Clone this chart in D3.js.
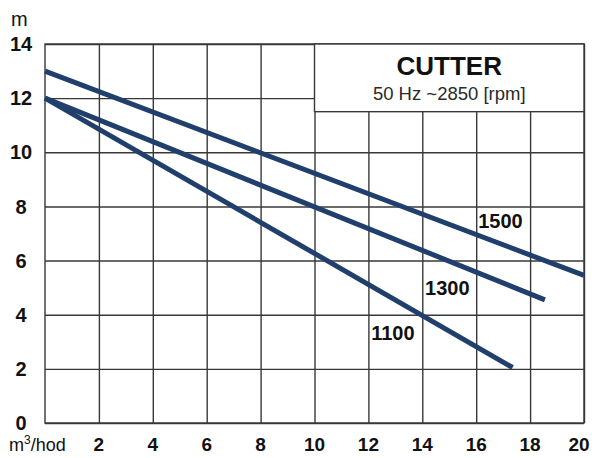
<!DOCTYPE html>
<html>
<head>
<meta charset="utf-8">
<script src="https://cdn.jsdelivr.net/npm/d3@7"></script>
<style>
  body { margin: 0; background: #fff; overflow: hidden; }
  svg { display: block; }
  text { font-family: "Liberation Sans", Arial, sans-serif; fill: #111; }
</style>
</head>
<body>
<div id="chart"></div>
<script>
// data
var xTicks = [2, 4, 6, 8, 10, 12, 14, 16, 18, 20];
var yTicks = [0, 2, 4, 6, 8, 10, 12, 14];
var seriesNames = ["1500", "1300", "1100"];
var flow1500 = [0, 20];
var head1500 = [13, 5.45];
var flow1300 = [0, 18.55];
var head1300 = [12, 4.55];
var flow1100 = [0, 17.35];
var head1100 = [12, 2.05];
// where each curve label sits (data units, baseline)
var labelFlow = [16.9, 14.93, 12.91];
var labelHead = [7.2, 4.73, 3.07];

// SVG area
var svgWidth = 594;
var svgHeight = 458;
var margin = { top: 44, right: 10, bottom: 35, left: 45 };
var innerWidth = svgWidth - margin.left - margin.right;
var innerHeight = svgHeight - margin.top - margin.bottom;

var svg = d3.select("#chart")
    .append("svg")
    .attr("width", svgWidth)
    .attr("height", svgHeight);

var xScale = d3.scaleLinear().domain([0, 20]).range([0, innerWidth]);
var yScale = d3.scaleLinear().domain([0, 14]).range([innerHeight, 0]);

var g = svg.append("g")
    .attr("transform", `translate(${margin.left}, ${margin.top})`);

var gridColor = "#383838";

// vertical grid (no tick text, labels are drawn below)
g.append("g")
    .attr("transform", `translate(0, ${innerHeight})`)
    .call(d3.axisBottom(xScale).tickValues(xTicks).tickSize(-innerHeight).tickFormat(""))
    .call(s => s.select(".domain").remove())
    .call(s => s.selectAll("text").remove())
    .selectAll("line").attr("stroke", gridColor).attr("stroke-width", 1.4);

// horizontal grid
g.append("g")
    .call(d3.axisLeft(yScale).tickValues(yTicks).tickSize(-innerWidth).tickFormat(""))
    .call(s => s.select(".domain").remove())
    .call(s => s.selectAll("text").remove())
    .selectAll("line").attr("stroke", gridColor).attr("stroke-width", 1.4);

// frame
g.append("rect")
    .attr("width", innerWidth)
    .attr("height", innerHeight)
    .attr("fill", "none")
    .attr("stroke", gridColor)
    .attr("stroke-width", 1.4);

// title box covers the grid top right
g.append("rect")
    .attr("x", xScale(10))
    .attr("y", yScale(14))
    .attr("width", xScale(20) - xScale(10))
    .attr("height", yScale(11.5) - yScale(14))
    .attr("fill", "#fff")
    .attr("stroke", gridColor)
    .attr("stroke-width", 1.4);

var boxCenter = (xScale(10) + xScale(20)) / 2;
g.append("text")
    .attr("x", boxCenter)
    .attr("y", 31)
    .attr("text-anchor", "middle")
    .style("font-size", "26px")
    .style("font-weight", "bold")
    .text("CUTTER");
g.append("text")
    .attr("x", boxCenter)
    .attr("y", 56)
    .attr("text-anchor", "middle")
    .style("font-size", "18.5px")
    .style("fill", "#2a2a2a")
    .text("50 Hz ~2850 [rpm]");

// curves
var curves = [
    flow1500.map((f, i) => [f, head1500[i]]),
    flow1300.map((f, i) => [f, head1300[i]]),
    flow1100.map((f, i) => [f, head1100[i]])
];

var line = d3.line()
    .x(d => xScale(d[0]))
    .y(d => yScale(d[1]));

g.selectAll(".curve").data(curves)
    .enter().append("path")
    .attr("class", "curve")
    .attr("d", line)
    .attr("fill", "none")
    .attr("stroke", "#203f6c")
    .attr("stroke-width", 5)
    .attr("stroke-linecap", "butt");

g.selectAll(".curve-label").data(seriesNames)
    .enter().append("text")
    .attr("class", "curve-label")
    .attr("x", (d, i) => xScale(labelFlow[i]))
    .attr("y", (d, i) => yScale(labelHead[i]))
    .attr("text-anchor", "middle")
    .style("font-size", "20px")
    .style("font-weight", "bold")
    .text(d => d);

// y tick labels
svg.selectAll(".ylab").data(yTicks)
    .enter().append("text")
    .attr("class", "ylab")
    .attr("x", 21)
    .attr("y", d => margin.top + yScale(d))
    .attr("dy", "0.36em")
    .attr("text-anchor", "middle")
    .style("font-size", "20px")
    .style("font-weight", "bold")
    .text(d => d);

// x tick labels
svg.selectAll(".xlab").data(xTicks)
    .enter().append("text")
    .attr("class", "xlab")
    .attr("x", d => Math.min(margin.left + xScale(d), 579))
    .attr("y", 451)
    .attr("text-anchor", "middle")
    .style("font-size", "19px")
    .style("font-weight", "bold")
    .text(d => d);

// axis units
svg.append("text")
    .attr("x", 11)
    .attr("y", 26)
    .style("font-size", "20px")
    .text("m");

var unit = svg.append("text")
    .attr("x", 9)
    .attr("y", 451)
    .style("font-size", "18px");
unit.append("tspan").text("m");
unit.append("tspan").attr("dy", -7).style("font-size", "12px").text("3");
unit.append("tspan").attr("dy", 7).text("/hod");
</script>
</body>
</html>
